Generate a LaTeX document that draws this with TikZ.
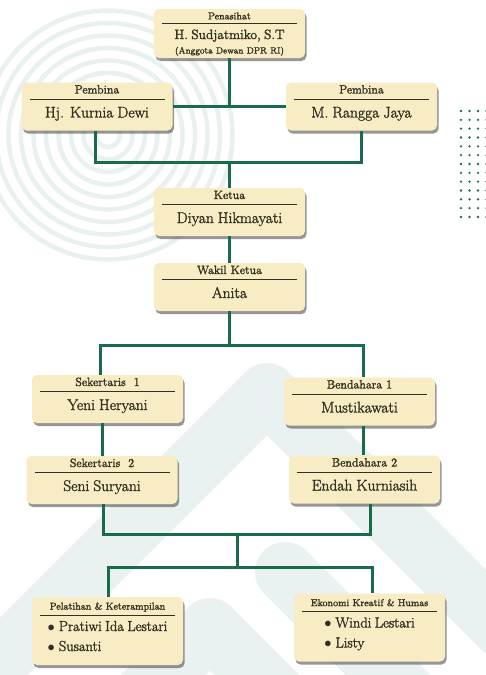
\documentclass[tikz,border=0pt]{standalone}
\usepackage{fontspec}
\newfontfamily\orgfont{Latin Modern Roman}[FakeBold=1.8]
\usepackage{tikz}
\usetikzlibrary{positioning,shadows}
\definecolor{unitfill}{RGB}{247,236,195}
\definecolor{unitink}{RGB}{50,48,34}
\definecolor{orggreen}{RGB}{25,108,74}
\definecolor{decor}{RGB}{233,242,240}
\definecolor{ringtint}{RGB}{232,241,239}
\definecolor{dotgreen}{RGB}{36,108,78}
\newcommand{\unitrule}{\rule[8.4pt]{135pt}{0.6pt}}
\newcommand{\unitname}{\fontsize{15.5}{18}\selectfont}
\newcommand{\unitlist}{\fontsize{14.5}{20}\selectfont}
\newcommand{\unitdot}{$\bullet$\hspace{4pt}}
\tikzset{
  orgline/.style={draw=orggreen, line width=3pt},
  unitbox/.style={rounded corners=5pt, fill=unitfill, text=unitink,
    drop shadow={shadow xshift=1.5pt, shadow yshift=-3pt, fill=black!75, opacity=.55},
    minimum width=151pt, minimum height=48pt, inner sep=0pt, text width=135pt, align=center,
    text height=11pt, text depth=37pt, font=\orgfont\fontsize{12}{14}\selectfont},
  topbox/.style={unitbox, minimum height=49pt, text height=10.4pt, text depth=38.6pt, font=\orgfont\fontsize{10}{12}\selectfont},
  listbox/.style={unitbox, minimum height=68pt, text height=12.6pt, text depth=55.4pt, font=\orgfont\fontsize{10}{12}\selectfont},
  ringline/.style={draw=ringtint, line width=4.5pt},
  decorband/.style={draw=decor, line width=60pt, line join=round, line cap=round},
  gridot/.style={fill=dotgreen}
}

\begin{document}
\begin{tikzpicture}[x=1pt, y=-1pt]
  \clip (0,0) rectangle (486,675);
  \fill[white] (0,0) rectangle (486,675);
  % background marks
  \foreach \r in {12,24.5,...,125} \draw[ringline] (108,135) circle[radius=\r pt];
  \draw[decorband] (-100,760) -- (267,393) -- (620,746);
  \draw[decorband] (285,572) -- (600,887);
  \draw[decorband] (110,728) -- (210,628) -- (310,728);
  \foreach \i in {0,...,3}
    \foreach \j in {0,...,12}
      \fill[gridot] (461+8.5*\i, 111+8.83*\j) circle[radius=1.3pt];

  % boxes
  \node[topbox] (adv) at (229.5,33.5) {Penasihat\\[0.9pt]\unitrule\\[-5.3pt]{\fontsize{13.5}{16}\selectfont H. Sudjatmiko, S.T}\\[2.5pt]{\fontsize{9}{11}\selectfont (Anggota Dewan DPR RI)}};
  \node[unitbox] (pem1) at (97,106.5) {Pembina\\\unitrule\\[-4pt]{\unitname Hj. Kurnia Dewi}};
  \node[unitbox] (pem2) at (361.5,106.5) {Pembina\\\unitrule\\[-4pt]{\unitname M. Rangga Jaya}};
  \node[unitbox] (ketua) at (229.5,212) {Ketua\\\unitrule\\[-4pt]{\unitname Diyan Hikmayati}};
  \node[unitbox] (wakil) at (229.5,287) {Wakil Ketua\\\unitrule\\[-4pt]{\unitname Anita}};
  \node[unitbox] (sek1) at (107.5,399) {Sekertaris~~1\\\unitrule\\[-4pt]{\unitname Yeni Heryani}};
  \node[unitbox] (bend1) at (359.5,401.5) {Bendahara 1\\\unitrule\\[-4pt]{\unitname Mustikawati}};
  \node[unitbox] (sek2) at (102,480) {Sekertaris~~2\\\unitrule\\[-4pt]{\unitname Seni Suryani}};
  \node[unitbox] (bend2) at (364.5,479.5) {Bendahara 2\\\unitrule\\[-4pt]{\unitname Endah Kurniasih}};
  \node[listbox] (pel) at (107.5,631) {Pelatihan \& Keterampilan\\[2.1pt]\unitrule\\[-7.7pt]{\unitlist\begin{tabular}[t]{@{}l@{}}\unitdot Pratiwi Ida Lestari\\\unitdot Susanti\end{tabular}}};
  \node[listbox] (eko) at (369.5,627.5) {Ekonomi Kreatif \& Humas\\[2.1pt]\unitrule\\[-7.7pt]{\unitlist\begin{tabular}[t]{@{}l@{}}\unitdot Windi Lestari\\\unitdot Listy\end{tabular}}};

  % connectors
  \coordinate (pemjoin) at (229.5,162);
  \coordinate (staffjoin) at (229.5,345);
  \coordinate (divjoin) at (237,534);
  \coordinate (unitjoin) at (237,567);
  \draw[orgline] (pem1.east) -- (pem2.west);
  \draw[orgline] (adv.south) -- (adv.south |- pem1.east);
  \draw[orgline] ([xshift=-2pt]pem1.south) |- (pemjoin) -| (pem2.south);
  \draw[orgline] (pemjoin) -- (ketua.north);
  \draw[orgline] (ketua.south) -- (wakil.north);
  \draw[orgline] (wakil.south) -- (staffjoin);
  \draw[orgline] ([xshift=-7.5pt]sek1.north) |- (staffjoin) -| ([xshift=3.5pt]bend1.north);
  \draw[orgline] (sek2.north) -- (sek2.north |- sek1.south);
  \draw[orgline] ([xshift=3.5pt]bend1.south) -- ([xshift=3.5pt]bend1.south |- bend2.north);
  \draw[orgline] ([xshift=1pt]sek2.south) |- (divjoin) -| ([xshift=5.5pt]bend2.south);
  \draw[orgline] (divjoin) -- (unitjoin);
  \draw[orgline] ([xshift=0.5pt]pel.north) |- (unitjoin) -| ([xshift=2.5pt]eko.north);
\end{tikzpicture}
\end{document}
